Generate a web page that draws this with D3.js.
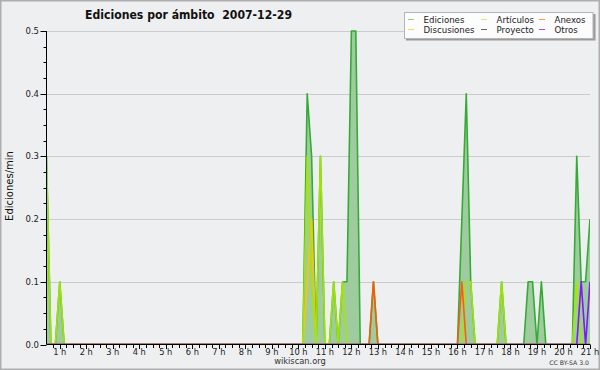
<!DOCTYPE html>
<html><head><meta charset="utf-8">
<script src="https://cdn.jsdelivr.net/npm/d3@7"></script>
<style>
html,body{margin:0;padding:0;background:#eeeff1;}
svg{display:block;}
text{font-family:"DejaVu Sans",sans-serif;}
</style></head>
<body>
<svg id="c" width="600" height="370"></svg>
<script>
// ---- data: one value every 10 minutes, from 00:30 to 21:00 (edits/min) ----
const startHour = 0.5;      // 00:30
const stepMinutes = 10;
const hourTicks = ["1 h","2 h","3 h","4 h","5 h","6 h","7 h","8 h","9 h","10 h","11 h","12 h","13 h","14 h","15 h","16 h","17 h","18 h","19 h","20 h","21 h"];
const yTicks = [0.0,0.1,0.2,0.3,0.4,0.5];

const ediciones = [
 0.3,0,0,
 0.1,0,0,0,0,0,   // 1 h
 0,0,0,0,0,0,     // 2 h
 0,0,0,0,0,0,     // 3 h
 0,0,0,0,0,0,     // 4 h
 0,0,0,0,0,0,     // 5 h
 0,0,0,0,0,0,     // 6 h
 0,0,0,0,0,0,     // 7 h
 0,0,0,0,0,0,     // 8 h
 0,0,0,0,0,0,     // 9 h
 0,0,0.4,0.3,0,0.3, // 10 h
 0,0,0.1,0,0.1,0.1, // 11 h
 0.5,0.5,0,0,0,0.1, // 12 h
 0,0,0,0,0,0,     // 13 h
 0,0,0,0,0,0,     // 14 h
 0,0,0,0,0,0,     // 15 h
 0,0.2,0.4,0.1,0,0, // 16 h
 0,0,0,0,0.1,0,   // 17 h
 0,0,0,0,0.1,0.1, // 18 h
 0,0.1,0,0,0,0,   // 19 h
 0,0,0,0.3,0.1,0.1, // 20 h
 0.2              // 21 h
];
const articulos = [
 0.3,0,0,
 0.1,0,0,0,0,0,     // 1 h
 0,0,0,0,0,0, 0,0,0,0,0,0, 0,0,0,0,0,0, 0,0,0,0,0,0,   // 2-5 h
 0,0,0,0,0,0, 0,0,0,0,0,0, 0,0,0,0,0,0, 0,0,0,0,0,0,   // 6-9 h
 0,0,0.3,0.1,0,0.3, // 10 h
 0,0,0.1,0,0.1,0,   // 11 h
 0,0,0,0,0,0,       // 12 h
 0,0,0,0,0,0, 0,0,0,0,0,0, 0,0,0,0,0,0,                // 13-15 h
 0,0,0.1,0.1,0,0,   // 16 h
 0,0,0,0,0.1,0,     // 17 h
 0,0,0,0,0,0,       // 18 h
 0,0,0,0,0,0,       // 19 h
 0,0,0,0.1,0,0,     // 20 h
 0
];
const discusiones = [
 0,0,0,
 0,0,0,0,0,0,       // 1 h
 0,0,0,0,0,0, 0,0,0,0,0,0, 0,0,0,0,0,0, 0,0,0,0,0,0,   // 2-5 h
 0,0,0,0,0,0, 0,0,0,0,0,0, 0,0,0,0,0,0, 0,0,0,0,0,0,   // 6-9 h
 0,0,0.1,0.2,0,0,   // 10 h
 0,0,0,0,0,0, 0,0,0,0,0,0, 0,0,0,0,0,0, 0,0,0,0,0,0, 0,0,0,0,0,0,   // 11-15 h
 0,0,0,0,0,0, 0,0,0,0,0,0, 0,0,0,0,0,0, 0,0,0,0,0,0, 0,0,0,0,0,0,   // 16-20 h
 0
];
const anexos = [
 0,0,0,
 0,0,0,0,0,0,       // 1 h
 0,0,0,0,0,0, 0,0,0,0,0,0, 0,0,0,0,0,0, 0,0,0,0,0,0,   // 2-5 h
 0,0,0,0,0,0, 0,0,0,0,0,0, 0,0,0,0,0,0, 0,0,0,0,0,0,   // 6-9 h
 0,0,0,0,0,0,       // 10 h
 0,0,0,0,0,0,       // 11 h
 0,0,0,0,0,0.1,     // 12 h
 0,0,0,0,0,0, 0,0,0,0,0,0, 0,0,0,0,0,0,                // 13-15 h
 0,0.1,0,0,0,0,     // 16 h
 0,0,0,0,0,0, 0,0,0,0,0,0, 0,0,0,0,0,0, 0,0,0,0,0,0,   // 17-20 h
 0
];
const proyecto = [
 0,0,0,
 0,0,0,0,0,0,       // 1 h
 0,0,0,0,0,0, 0,0,0,0,0,0, 0,0,0,0,0,0, 0,0,0,0,0,0,   // 2-5 h
 0,0,0,0,0,0, 0,0,0,0,0,0, 0,0,0,0,0,0, 0,0,0,0,0,0,   // 6-9 h
 0,0,0,0,0,0, 0,0,0,0,0,0, 0,0,0,0,0,0, 0,0,0,0,0,0, 0,0,0,0,0,0,   // 10-14 h
 0,0,0,0,0,0, 0,0,0,0,0,0, 0,0,0,0,0,0, 0,0,0,0,0,0, 0,0,0,0,0,0,   // 15-19 h
 0,0,0,0,0,0,       // 20 h
 0
];
const otros = [
 0,0,0,
 0,0,0,0,0,0,       // 1 h
 0,0,0,0,0,0, 0,0,0,0,0,0, 0,0,0,0,0,0, 0,0,0,0,0,0,   // 2-5 h
 0,0,0,0,0,0, 0,0,0,0,0,0, 0,0,0,0,0,0, 0,0,0,0,0,0,   // 6-9 h
 0,0,0,0,0,0, 0,0,0,0,0,0, 0,0,0,0,0,0, 0,0,0,0,0,0, 0,0,0,0,0,0,   // 10-14 h
 0,0,0,0,0,0, 0,0,0,0,0,0, 0,0,0,0,0,0, 0,0,0,0,0,0, 0,0,0,0,0,0,   // 15-19 h
 0,0,0,0,0.1,0,     // 20 h
 0.1
];

const seriesNames = ["Ediciones","Artículos","Anexos","Discusiones","Proyecto","Otros"];
const lineColors  = ["#35ab35","#a6e600","#ff5a00","#ffc400","#555555","#7a10ff"];
const legendColors= ["#8fcf8f","#d2f070","#ff9455","#ffd44a","#666666","#9955ee"];

// ---- layout ----
const svg = d3.select("#c");
const X0 = 46.5, X1 = 590, Y0 = 344.5, Y1 = 31;
const endHour = startHour + (ediciones.length - 1) * stepMinutes / 60;
const x = d3.scaleLinear().domain([startHour, endHour]).range([X0, X1]);
const y = d3.scaleLinear().domain([0, 0.5]).range([Y0, Y1]);
const tOf = i => startHour + i * stepMinutes / 60;

// background + frame
svg.append("rect").attr("x",0).attr("y",0).attr("width",600).attr("height",370).attr("fill","#eeeff1");
svg.append("rect").attr("x",0.75).attr("y",0.75).attr("width",598.5).attr("height",368.5)
   .attr("fill","none").attr("stroke","#aeaeae").attr("stroke-width",1.5);

// gridlines
svg.append("g").selectAll("line").data(yTicks.filter(d => d > 0)).join("line")
  .attr("x1", X0).attr("x2", X1)
  .attr("y1", d => Math.round(y(d)) + 0.5).attr("y2", d => Math.round(y(d)) + 0.5)
  .attr("stroke", "#cbcbcb").attr("stroke-width", 1);

// clip
svg.append("clipPath").attr("id","plot").append("rect")
  .attr("x", X0).attr("y", Y1 - 2).attr("width", X1 - X0).attr("height", Y0 - Y1 + 2);
const plot = svg.append("g").attr("clip-path","url(#plot)");

const area = d3.area().x((d,i) => x(tOf(i))).y0(y(0)).y1(d => y(d));
const line = d3.line().x((d,i) => x(tOf(i))).y(d => y(d));

plot.append("path").datum(ediciones).attr("d", area).attr("fill", "#9fcc9f");
plot.append("path").datum(ediciones).attr("d", line).attr("fill","none")
  .attr("stroke", lineColors[0]).attr("stroke-width", 1.6).attr("stroke-linejoin","round");

const others = [
  [discusiones, lineColors[3]],
  [articulos,   lineColors[1]],
  [anexos,      lineColors[2]],
  [proyecto,    lineColors[4]],
  [otros,       lineColors[5]]
];
others.forEach(([vals, col]) => {
  plot.append("path").datum(vals).attr("d", line).attr("fill","none")
    .attr("stroke", col).attr("stroke-width", 1.6).attr("stroke-linejoin","round").attr("opacity",0.95);
});

// y axis
const yMinor = d3.range(0, 0.5001, 0.025);
const yAxis = svg.append("g").attr("transform", `translate(${X0},0)`);
yAxis.append("line").attr("x1",0).attr("x2",0).attr("y1",Y1).attr("y2",Y0).attr("stroke","#000");
yAxis.selectAll("line.mi").data(yMinor).join("line").attr("class","mi")
  .attr("x1", d => (Math.abs(d*10 - Math.round(d*10)) < 1e-6) ? -6 : -3).attr("x2", 0)
  .attr("y1", d => Math.round(y(d)) + 0.5).attr("y2", d => Math.round(y(d)) + 0.5)
  .attr("stroke","#000");
yAxis.selectAll("text").data(yTicks).join("text")
  .attr("x", -7.5).attr("y", d => y(d) + 3)
  .attr("text-anchor","end").attr("font-size", 8.5).attr("fill","#222")
  .text(d => d.toFixed(1));

// x axis
const xAxis = svg.append("g");
xAxis.append("line").attr("x1",X0).attr("x2",X1).attr("y1",Y0).attr("y2",Y0).attr("stroke","#000").attr("stroke-width",1.2);
const xMinor = d3.range(startHour + 0.25, endHour + 0.001, 0.25);
xAxis.selectAll("line.mi").data(xMinor).join("line").attr("class","mi")
  .attr("x1", d => Math.round(x(d)) + 0.5).attr("x2", d => Math.round(x(d)) + 0.5)
  .attr("y1", Y0).attr("y2", d => Number.isInteger(d) ? Y0 + 4.5 : Y0 + 3.5)
  .attr("stroke","#000");
xAxis.selectAll("text").data(hourTicks).join("text")
  .attr("x", (d,i) => x(i + 1)).attr("y", Y0 + 10)
  .attr("text-anchor","middle").attr("font-size", 8.3).attr("fill","#222")
  .text(d => d);

// title
svg.append("text").attr("x", 85).attr("y", 18.5)
  .attr("font-size", 12.5).attr("font-weight","bold").attr("fill","#111")
  .attr("xml:space","preserve").style("white-space","pre")
  .attr("textLength", 207).attr("lengthAdjust","spacingAndGlyphs")
  .text("Ediciones por ámbito  2007-12-29");

// y label
svg.append("text").attr("transform","translate(12.5,186) rotate(-90)")
  .attr("text-anchor","middle").attr("font-size", 10)
  .attr("font-family","'DejaVu Sans Mono',monospace").attr("fill","#111")
  .text("Ediciones/min");

// footer
svg.append("text").attr("x", 300).attr("y", 363.5).attr("text-anchor","middle")
  .attr("font-size", 8.3).attr("fill","#333").text("wikiscan.org");
svg.append("text").attr("x", 589).attr("y", 365).attr("text-anchor","end")
  .attr("font-size", 6.2).attr("fill","#333").text("CC BY-SA 3.0");

// legend
const lg = svg.append("g");
lg.append("rect").attr("x",406).attr("y",14).attr("width",189.5).attr("height",26.5).attr("fill","#9a9a9a");
lg.append("rect").attr("x",404.5).attr("y",12.5).attr("width",188.5).attr("height",26).attr("fill","#fcfcfc").attr("stroke","#b5b5b5");
const colX = [408, 481, 539];
const rowY = [19.5, 29.5];
seriesNames.forEach((name, i) => {
  const cx = colX[i % 3], cy = rowY[Math.floor(i / 3)];
  lg.append("line").attr("x1", cx).attr("x2", cx + 6).attr("y1", cy).attr("y2", cy)
    .attr("stroke", legendColors[i]).attr("stroke-width", 1);
  lg.append("text").attr("x", cx + 15.5).attr("y", cy + 3)
    .attr("font-size", 8.6).attr("fill","#222").text(name);
});
</script>
</body></html>
